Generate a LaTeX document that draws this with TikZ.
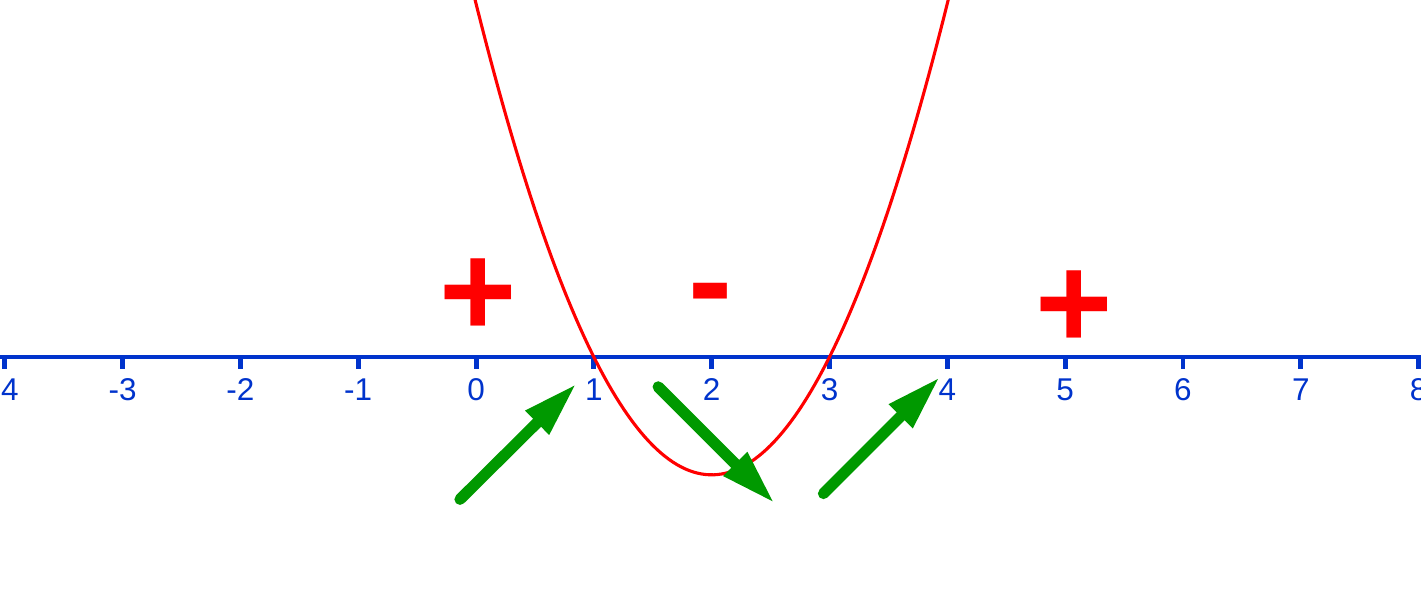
\documentclass[tikz,border=0pt]{standalone}
\usepackage{fontspec}
\setmainfont{Liberation Sans}
\usetikzlibrary{arrows.meta}
\definecolor{axisblue}{RGB}{0,51,204}
\definecolor{signred}{RGB}{255,0,0}
\definecolor{arrowgreen}{RGB}{0,153,0}

\begin{document}
\begin{tikzpicture}[
	axis/.style={axisblue, line width=1.1pt},
	tick/.style={axisblue, line width=1.2pt},
	ticklabel/.style={axisblue, anchor=north, inner sep=0pt, font=\fontsize{7.6}{9}\selectfont},
	sign/.style={signred, anchor=north, inner sep=0pt, font=\fontsize{32}{32}\selectfont\bfseries},
	curve/.style={signred, line width=0.75pt},
	move/.style={arrowgreen, line width=2.7pt, line cap=round, -{Triangle[length=13.5pt,width=7.4pt]}}]
	\path[use as bounding box] (-4.04,-1.97) rectangle (8.02,3.03);
	\clip (-4.04,-1.97) rectangle (8.02,3.03);
	\coordinate (west) at (-4.2,0);
	\coordinate (east) at (8.2,0);
	\draw[axis] (west) -- (east);
	\foreach \n in {-4,...,8}{
		\coordinate (t\n) at (\n,0);
		\draw[tick] (t\n) -- ++(0,-0.1);
		\node[ticklabel] (lbl\n) at (\n,-0.178) {\n};
	}
	\draw[curve, domain=-0.05:4.05, samples=120] plot (\x, {(\x-1)*(\x-3)});
	\node[sign] (plusleft) at (0.017,0.840) {+};
	\node[sign] (minus) at (1.99,0.637) {-};
	\node[sign] (plusright) at (5.076,0.739) {+};
	\coordinate (from1) at (-0.136,-1.208);
	\coordinate (to1) at (0.855,-0.224);
	\coordinate (from2) at (1.546,-0.253);
	\coordinate (to2) at (2.536,-1.243);
	\coordinate (from3) at (2.949,-1.159);
	\coordinate (to3) at (3.939,-0.168);
	\draw[move] (from1) -- (to1);
	\draw[move] (from2) -- (to2);
	\draw[move] (from3) -- (to3);
\end{tikzpicture}
\end{document}
